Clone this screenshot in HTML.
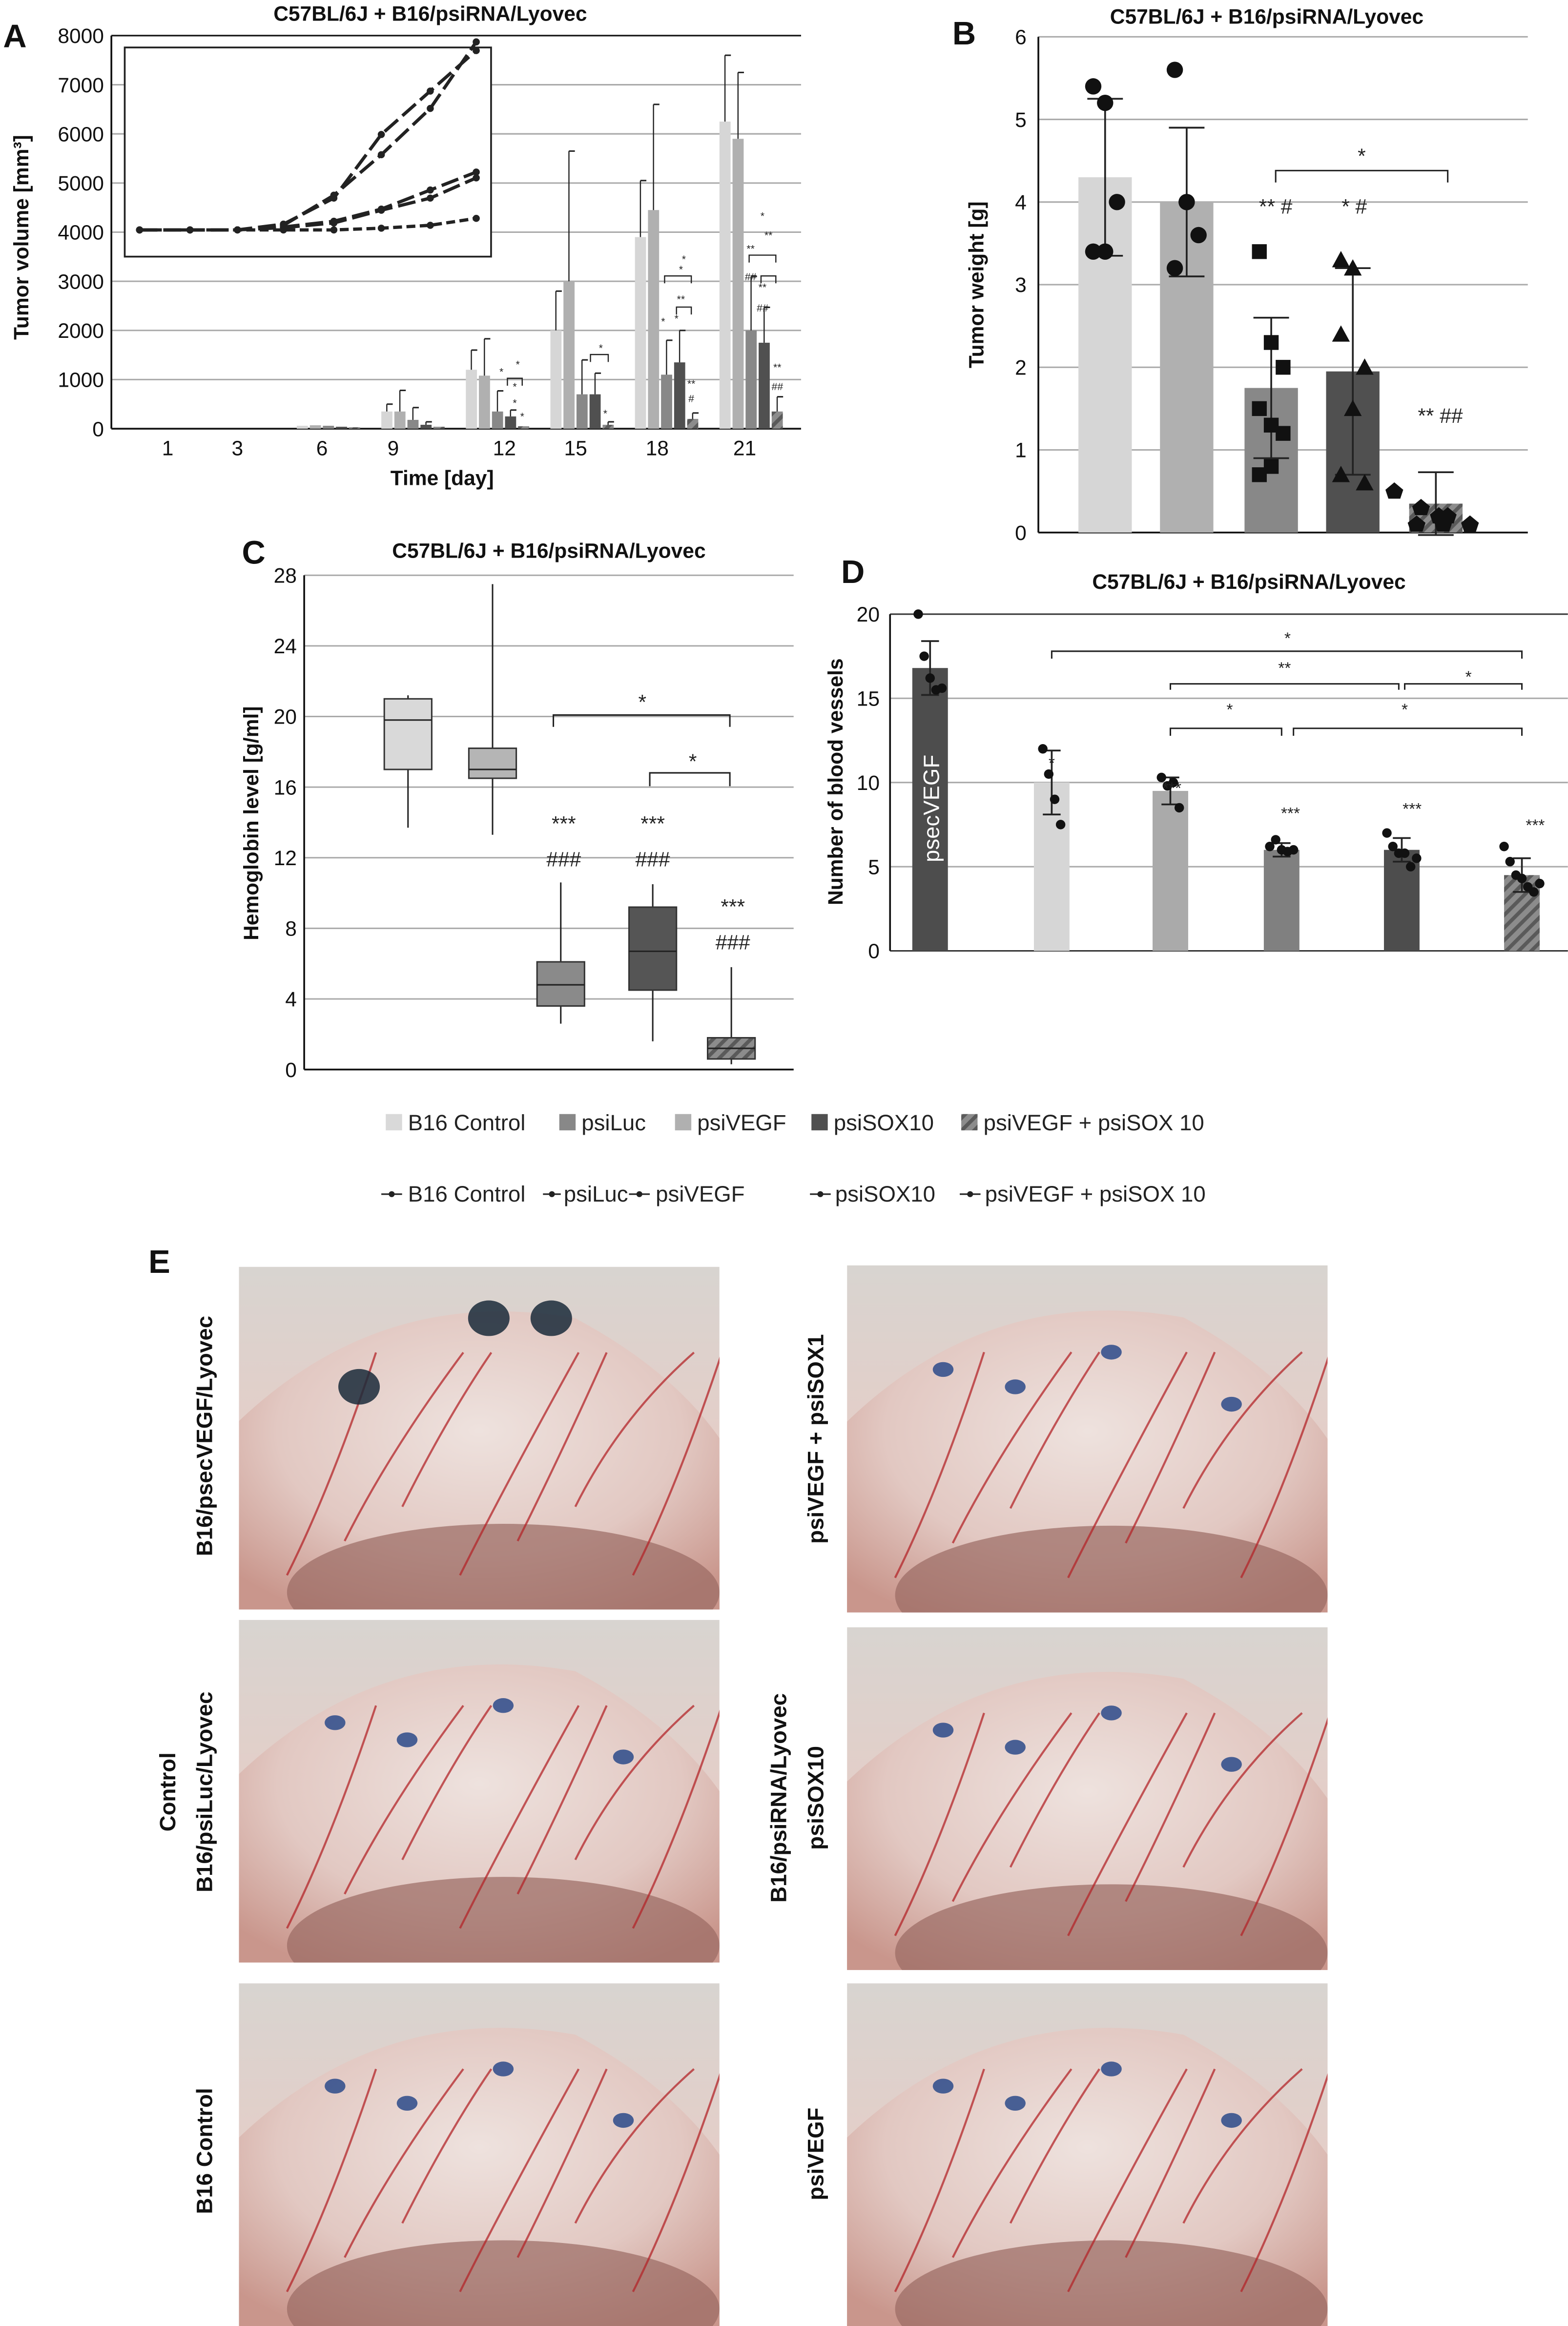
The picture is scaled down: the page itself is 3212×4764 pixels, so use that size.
<!DOCTYPE html>
<html><head><meta charset="utf-8"><style>
html,body{margin:0;padding:0;background:#fff}
svg{display:block;font-family:"Liberation Sans",sans-serif}
</style></head><body>
<svg id="fig" xmlns="http://www.w3.org/2000/svg" width="3212" height="4764" viewBox="0 0 1057 1568">
<defs>
<pattern id="hatch" patternUnits="userSpaceOnUse" width="6" height="6" patternTransform="rotate(45)">
<rect width="6" height="6" fill="#8c8c8c"/><rect width="2.5" height="6" fill="#5a5a5a"/></pattern>
<radialGradient id="tissue" cx="50%" cy="40%" r="70%">
<stop offset="0" stop-color="#eee2de"/><stop offset="0.6" stop-color="#e2c8c2"/><stop offset="1" stop-color="#c9968c"/></radialGradient>
<linearGradient id="bg1" x1="0" y1="0" x2="0" y2="1"><stop offset="0" stop-color="#d8d4d0"/><stop offset="0.5" stop-color="#e4cec8"/><stop offset="1" stop-color="#b0837a"/></linearGradient>
</defs>
<g id="root"></g>
<g font-weight="bold" font-size="22" fill="#111">
<text x="2" y="32">A</text><text x="642" y="30">B</text><text x="163" y="380">C</text><text x="567" y="393">D</text><text x="100" y="858">E</text>
</g>
<g font-weight="bold" font-size="14" fill="#111" text-anchor="middle">
<text x="290" y="14">C57BL/6J + B16/psiRNA/Lyovec</text>
<text x="854" y="16">C57BL/6J + B16/psiRNA/Lyovec</text>
<text x="370" y="376">C57BL/6J + B16/psiRNA/Lyovec</text>
<text x="842" y="397">C57BL/6J + B16/psiRNA/Lyovec</text>
</g>
<g font-size="14" fill="#111" text-anchor="middle">
<text x="298" y="327" font-weight="bold">Time [day]</text>
<text transform="translate(19,160) rotate(-90)" font-weight="bold">Tumor volume [mm³]</text>
<text transform="translate(663,192) rotate(-90)" font-weight="bold">Tumor weight [g]</text>
<text transform="translate(174,555) rotate(-90)" font-weight="bold">Hemoglobin level [g/ml]</text>
<text transform="translate(568,527) rotate(-90)" font-weight="bold">Number of blood vessels</text>
</g>
<g font-size="15" fill="#222">
<rect x="260" y="751" width="11" height="11" fill="#d9d9d9"/><text x="275" y="762">B16 Control</text>
<rect x="377" y="751" width="11" height="11" fill="#888"/><text x="392" y="762">psiLuc</text>
<rect x="455" y="751" width="11" height="11" fill="#b0b0b0"/><text x="470" y="762">psiVEGF</text>
<rect x="547" y="751" width="11" height="11" fill="#505050"/><text x="562" y="762">psiSOX10</text>
<rect x="648" y="751" width="11" height="11" fill="url(#hatch)"/><text x="663" y="762">psiVEGF + psiSOX 10</text>
</g>
<g font-size="15" fill="#222" stroke="#222">
<g stroke-width="1"><line x1="257" y1="805" x2="271" y2="805"/><line x1="366" y1="805" x2="378" y2="805"/><line x1="424" y1="805" x2="438" y2="805"/><line x1="546" y1="805" x2="560" y2="805"/><line x1="647" y1="805" x2="661" y2="805"/></g>
<g stroke="none"><circle cx="264" cy="805" r="2"/><circle cx="372" cy="805" r="2"/><circle cx="431" cy="805" r="2"/><circle cx="553" cy="805" r="2"/><circle cx="654" cy="805" r="2"/>
<text x="275" y="810">B16 Control</text><text x="380" y="810">psiLuc</text><text x="442" y="810">psiVEGF</text><text x="563" y="810">psiSOX10</text><text x="664" y="810">psiVEGF + psiSOX 10</text></g>
</g>
<g font-size="15" font-weight="bold" fill="#111" text-anchor="middle">
<text transform="translate(143,968) rotate(-90)">B16/psecVEGF/Lyovec</text>
<text transform="translate(118,1208) rotate(-90)">Control</text>
<text transform="translate(143,1208) rotate(-90)">B16/psiLuc/Lyovec</text>
<text transform="translate(143,1450) rotate(-90)">B16 Control</text>
<text transform="translate(555,970) rotate(-90)">psiVEGF + psiSOX1</text>
<text transform="translate(530,1212) rotate(-90)">B16/psiRNA/Lyovec</text>
<text transform="translate(555,1212) rotate(-90)">psiSOX10</text>
<text transform="translate(555,1452) rotate(-90)">psiVEGF</text>
</g>
<script>
// ---- Panel A data ----
const daysA=["1","3","6","9","12","15","18","21"];
const volB16=[0,0,60,350,1200,2000,3900,6250];
const volLuc=[0,0,70,350,1080,3000,4450,5900];
const volVEGF=[0,0,60,180,350,700,1100,2000];
const volSOX=[0,0,40,80,250,700,1350,1750];
const volCombo=[0,0,30,40,50,80,200,350];
const errB16=[0,0,10,150,400,800,1150,1350];
const errLuc=[0,0,10,430,750,2650,2150,1350];
const errVEGF=[0,0,10,250,420,700,700,1100];
const errSOX=[0,0,5,60,130,430,650,720];
const errCombo=[0,0,5,20,20,60,120,300];
const ticksA=[0,1000,2000,3000,4000,5000,6000,7000,8000];
const insetB16=[0,0,1,80,600,1300,2100,3250];
const insetLuc=[0,0,1,100,550,1650,2400,3100];
const insetVEGF=[0,0,1,50,150,360,690,1000];
const insetSOX=[0,0,1,40,120,340,550,900];
const insetCombo=[0,0,0,0,0,30,80,200];
// ---- Panel B ----
const groupsB=["B16 Control","psiLuc","psiVEGF","psiSOX10","psiVEGF+psiSOX10"];
const weightMean=[4.3,4.0,1.75,1.95,0.35];
const weightSD=[0.95,0.9,0.85,1.25,0.38];
const weightPts=[[5.4,5.2,4.0,3.4,3.4],[5.6,4.0,3.6,3.2,4.0],[3.4,2.3,2.0,1.5,1.3,1.2,0.7,0.8],[3.3,3.2,2.0,2.4,1.5,0.6,0.7],[0.5,0.3,0.2,0.1,0.1,0.1,0.2]];
const ticksB=[0,1,2,3,4,5,6];
// ---- Panel C ----
const boxMin=[13.7,13.3,2.6,1.6,0.3];
const boxQ1=[17,16.5,3.6,4.5,0.6];
const boxMed=[19.8,17,4.8,6.7,1.2];
const boxQ3=[21,18.2,6.1,9.2,1.8];
const boxMax=[21.2,27.5,10.6,10.5,5.8];
const ticksC=[0,4,8,12,16,20,24,28];
// ---- Panel D ----
const vesselMean=[16.8,10,9.5,6,6,4.5];
const vesselSD=[1.6,1.9,0.8,0.4,0.7,1.0];
const vesselPts=[[20,17.5,16.2,15.5,15.6],[12,10.5,9,7.5],[10.3,9.8,10,8.5],[6.2,6.6,6,5.9,6],[7,6.2,5.8,5.8,5,5.5],[6.2,5.3,4.5,4.3,3.8,3.5,4]];
const ticksD=[0,5,10,15,20];

const NS="http://www.w3.org/2000/svg";
const root=document.getElementById('root');
function mk(tag,attrs,parent){const e=document.createElementNS(NS,tag);for(const k in attrs)e.setAttribute(k,attrs[k]);(parent||root).appendChild(e);return e;}
function txt(x,y,s,attrs,parent){const t=mk('text',Object.assign({x:x,y:y},attrs||{}),parent);t.textContent=s;return t;}
const fills=["#d6d6d6","#b0b0b0","#888888","#505050","url(#hatch)"];

// ===== Panel A =====
const gA=mk('g',{});


const A={x0:75,x1:540,y0:289,yt:24,max:8000};
const yA=v=>A.y0-(v/A.max)*(A.y0-A.yt);
const dayX=[113,160,217,265,340,388,443,502];
const groupStart=i=>200+57*(i-2);
ticksA.forEach(t=>{
  if(t>0){const l=mk('line',{x1:A.x0,x2:A.x1,y1:yA(t),y2:yA(t),stroke:'#aaa','stroke-width':1},gA);
  }
  const tl=txt(A.x0-5,yA(t)+5,String(t),{'font-size':14,'text-anchor':'end',fill:'#111'},gA);
  
});
mk('line',{x1:A.x0,x2:A.x0,y1:A.yt,y2:A.y0,stroke:'#111','stroke-width':1.2},gA);
mk('line',{x1:A.x0,x2:A.x1,y1:A.y0,y2:A.y0,stroke:'#111','stroke-width':1.2},gA);
mk('line',{x1:A.x0,x2:A.x1,y1:A.yt,y2:A.yt,stroke:'#111','stroke-width':1},gA);
daysA.forEach((d,i)=>{const t=txt(dayX[i],307,d,{'font-size':14,'text-anchor':'middle',fill:'#111'},gA);
 });
const seriesA=[volB16,volLuc,volVEGF,volSOX,volCombo], errA=[errB16,errLuc,errVEGF,errSOX,errCombo];
seriesA.forEach((s,j)=>s.forEach((v,i)=>{
  if(v<=0)return;
  const x=groupStart(i)+j*8.8;
  const r=mk('rect',{x:x,y:yA(v),width:7.5,height:A.y0-yA(v),fill:fills[j]},gA);
  
  const e=errA[j][i];
  if(e>20){const cx=x+3.7;mk('line',{x1:cx,x2:cx,y1:yA(v),y2:yA(v+e),stroke:'#222','stroke-width':0.8},gA);
   mk('line',{x1:cx,x2:cx+4,y1:yA(v+e),y2:yA(v+e),stroke:'#222','stroke-width':1},gA);}
}));
const inset=mk('g',{},gA);


mk('rect',{x:84,y:32,width:247,height:141,fill:'#fff',stroke:'#222','stroke-width':1.2},inset);
const ix=i=>[94,128,160,191,225,257,290,321][i];
const iy=v=>155-v*0.039;
[insetB16,insetLuc,insetVEGF,insetSOX,insetCombo].forEach((s,j)=>{
  const pts=s.map((v,i)=>ix(i)+','+iy(v)).join(' ');
  const pl=mk('polyline',{points:pts,fill:'none',stroke:'#222','stroke-width':2.2,'stroke-dasharray':j==4?'6,3':'12,4'},inset);
  
  s.forEach((v,i)=>mk('circle',{cx:ix(i),cy:iy(v),r:2.4,fill:'#222'},inset));
});
[[338,253,'*'],[347,263,'*'],[347,274,'*'],[352,283,'*'],[349,248,'*'],[408,281,'*'],[405,237,'*'],[447,219,'*'],[456,217,'*'],[466,261,'**'],[466,271,'#'],[459,204,'**'],[459,184,'*'],[461,177,'*'],[506,170,'**'],[506,189,'##'],[514,196,'**'],[514,210,'##'],[524,250,'**'],[524,263,'##'],[514,148,'*'],[518,161,'**']].forEach(a=>{
  const t=txt(a[0],a[1],a[2],{'font-size':7,'text-anchor':'middle',fill:'#222'},gA);
  
});
['M342 260 V255 H352 V260','M398 244 V239 H410 V244','M448 191 V186 H466 V191','M456 212 V207 H466 V212','M505 177 V172 H523 V177','M513 191 V186 H523 V191'].forEach(d=>mk('path',{d:d,fill:'none',stroke:'#222','stroke-width':0.8},gA));

// ===== Panel B =====
const gB=mk('g',{});


const yB=v=>359-v*55.7;
const bX=[745,800,857,912,968];
ticksB.forEach(t=>{
  if(t>0){const l=mk('line',{x1:700,x2:1030,y1:yB(t),y2:yB(t),stroke:'#aaa','stroke-width':1},gB);
  }
  const tl=txt(692,yB(t)+5,String(t),{'font-size':14,'text-anchor':'end',fill:'#111'},gB);
  
});
mk('line',{x1:700,x2:700,y1:yB(6),y2:yB(0),stroke:'#111','stroke-width':1.2},gB);
mk('line',{x1:700,x2:1030,y1:yB(0),y2:yB(0),stroke:'#111','stroke-width':1.2},gB);
weightMean.forEach((v,i)=>{
  const r=mk('rect',{x:bX[i]-18,y:yB(v),width:36,height:yB(0)-yB(v),fill:fills[i]},gB);
  
  const sd=weightSD[i];
  mk('line',{x1:bX[i],x2:bX[i],y1:yB(v-sd),y2:yB(v+sd),stroke:'#222','stroke-width':1.2},gB);
  mk('line',{x1:bX[i]-12,x2:bX[i]+12,y1:yB(v-sd),y2:yB(v-sd),stroke:'#222','stroke-width':1.2},gB);
  mk('line',{x1:bX[i]-12,x2:bX[i]+12,y1:yB(v+sd),y2:yB(v+sd),stroke:'#222','stroke-width':1.2},gB);
  weightPts[i].forEach((p,k)=>{
    const n=weightPts[i].length;const px=bX[i]+((k%3)-1)*(i==4?13:8)+(i==4?(k-3)*5:0);const py=yB(p);
    let m;
    if(i==2)m=mk('rect',{x:px-5,y:py-5,width:10,height:10,fill:'#111'},gB);
    else if(i==3)m=mk('polygon',{points:`${px},${py-6} ${px+6},${py+5} ${px-6},${py+5}`,fill:'#111'},gB);
    else if(i==4)m=mk('polygon',{points:`${px},${py-6} ${px+6},${py-1} ${px+4},${py+5} ${px-4},${py+5} ${px-6},${py-1}`,fill:'#111'},gB);
    else m=mk('circle',{cx:px,cy:py,r:5.5,fill:'#111'},gB);
    
  });
});
mk('path',{d:'M860 123 V115 H976 V123',fill:'none',stroke:'#222','stroke-width':1},gB);
[[918,110,'*',14],[860,144,'** #',14],[913,144,'* #',14],[971,285,'** ##',14]].forEach(a=>{
  const t=txt(a[0],a[1],a[2],{'font-size':a[3],'text-anchor':'middle',fill:'#222'},gB);
  });

// ===== Panel C =====
const gC=mk('g',{});


const yC=v=>721-v*11.9;
const cX=[275,332,378,440,493];
ticksC.forEach(t=>{
  if(t>0){const l=mk('line',{x1:205,x2:535,y1:yC(t),y2:yC(t),stroke:'#aaa','stroke-width':1},gC);
  }
  const tl=txt(200,yC(t)+5,String(t),{'font-size':14,'text-anchor':'end',fill:'#111'},gC);
  
});
mk('line',{x1:205,x2:205,y1:yC(28),y2:yC(0),stroke:'#111','stroke-width':1.2},gC);
mk('line',{x1:205,x2:535,y1:yC(0),y2:yC(0),stroke:'#111','stroke-width':1.2},gC);
const boxFill=["#d9d9d9","#b5b5b5","#8a8a8a","#555","url(#hatch)"];
cX.forEach((x,i)=>{
  mk('line',{x1:x,x2:x,y1:yC(boxMin[i]),y2:yC(boxMax[i]),stroke:'#222','stroke-width':1},gC);
  const b=mk('rect',{x:x-16,y:yC(boxQ3[i]),width:32,height:yC(boxQ1[i])-yC(boxQ3[i]),fill:boxFill[i],stroke:'#333','stroke-width':1},gC);
  
  mk('line',{x1:x-16,x2:x+16,y1:yC(boxMed[i]),y2:yC(boxMed[i]),stroke:'#222','stroke-width':1},gC);
});
mk('path',{d:'M373 490 V482 H492 V490',fill:'none',stroke:'#222','stroke-width':1},gC);
mk('path',{d:'M438 530 V521 H492 V530',fill:'none',stroke:'#222','stroke-width':1},gC);
[[433,478,'*'],[467,518,'*'],[380,560,'***'],[380,584,'###'],[440,560,'***'],[440,584,'###'],[494,616,'***'],[494,640,'###']].forEach(a=>{
  const t=txt(a[0],a[1],a[2],{'font-size':14,'text-anchor':'middle',fill:'#222'},gC);
  });

// ===== Panel D =====
const gD=mk('g',{});


const yD=v=>641-v*11.35;
const dX=[627,709,789,864,945,1026];
ticksD.forEach(t=>{
  const l=mk('line',{x1:600,x2:1057,y1:yD(t),y2:yD(t),stroke:t==0||t==20?'#333':'#aaa','stroke-width':1},gD);
  
  const tl=txt(593,yD(t)+5,String(t),{'font-size':14,'text-anchor':'end',fill:'#111'},gD);
  
});
mk('line',{x1:600,x2:600,y1:yD(20),y2:yD(0),stroke:'#111','stroke-width':1.2},gD);
const dFill=["#4d4d4d","#d6d6d6","#aaaaaa","#808080","#4d4d4d","url(#hatch)"];
vesselMean.forEach((v,i)=>{
  const r=mk('rect',{x:dX[i]-12,y:yD(v),width:24,height:yD(0)-yD(v),fill:dFill[i]},gD);
  
  const sd=vesselSD[i];
  mk('line',{x1:dX[i],x2:dX[i],y1:yD(v-sd),y2:yD(v+sd),stroke:'#222','stroke-width':1.2},gD);
  [v-sd,v+sd].forEach(e=>mk('line',{x1:dX[i]-6,x2:dX[i]+6,y1:yD(e),y2:yD(e),stroke:'#222','stroke-width':1.2},gD));
  vesselPts[i].forEach((p,k)=>{
    const n=vesselPts[i].length;const px=dX[i]+(k-(n-1)/2)*4;
    const c=mk('circle',{cx:px,cy:yD(p),r:3.2,fill:'#111'},gD);
    
  });
});
const lab=txt(0,0,'psecVEGF',{'font-size':15,fill:'#fff','text-anchor':'middle',transform:'translate(633,545) rotate(-90)'},gD);

['M709 444 V439 H1026 V444','M789 465 V461 H943 V465','M947 465 V461 H1026 V465','M789 496 V491 H864 V496','M872 496 V491 H1026 V496'].forEach(d=>mk('path',{d:d,fill:'none',stroke:'#222','stroke-width':1},gD));
[[868,434,'*'],[866,454,'**'],[990,460,'*'],[829,482,'*'],[947,482,'*'],[709,518,'*'],[790,535,'***'],[870,552,'***'],[952,549,'***'],[1035,560,'***']].forEach(a=>{
  const t=txt(a[0],a[1],a[2],{'font-size':11,'text-anchor':'middle',fill:'#222'},gD);
  });

// ===== Panel E photos =====
const photos=[[161,854,324,231,'photo-b16-psecvegf'],[161,1092,324,231,'photo-control-psiluc'],[161,1337,324,231,'photo-b16-control'],
[571,853,324,234,'photo-psivegf-psisox'],[571,1097,324,231,'photo-psisox10'],[571,1337,324,231,'photo-psivegf']];
photos.forEach((p,i)=>{
  const g=mk('g',{});
  
  
  const cp=mk('clipPath',{id:'cp'+i},g);
  mk('rect',{x:p[0],y:p[1],width:p[2],height:p[3]},cp);
  const gg=mk('g',{'clip-path':'url(#cp'+i+')'},g);
  mk('rect',{x:p[0],y:p[1],width:p[2],height:p[3],fill:'url(#bg1)'},gg);
  mk('path',{d:`M${p[0]} ${p[1]+p[3]*0.45} Q${p[0]+p[2]*0.3} ${p[1]+p[3]*0.05} ${p[0]+p[2]*0.7} ${p[1]+p[3]*0.15} Q${p[0]+p[2]*0.9} ${p[1]+p[3]*0.3} ${p[0]+p[2]} ${p[1]+p[3]*0.5} V${p[1]+p[3]} H${p[0]} Z`,fill:'url(#tissue)'},gg);
  mk('ellipse',{cx:p[0]+p[2]*0.55,cy:p[1]+p[3]*0.95,rx:p[2]*0.45,ry:p[3]*0.2,fill:'#9a6a62',opacity:0.7},gg);
  for(let k=0;k<7;k++){
    const sx=p[0]+p[2]*(0.1+k*0.12), sy=p[1]+p[3]*(0.9-(k%3)*0.1);
    mk('path',{d:`M${sx} ${sy} Q${sx+30} ${sy-60} ${sx+60+(k%2)*20} ${p[1]+p[3]*0.25}`,fill:'none',stroke:'#b3262a','stroke-width':1.4,opacity:0.75},gg);
  }
  const dots=i==0?[[0.25,0.35],[0.52,0.15],[0.65,0.15]]:[[0.2,0.3],[0.35,0.35],[0.55,0.25],[0.8,0.4]];
  dots.forEach(d=>mk('ellipse',{cx:p[0]+p[2]*d[0],cy:p[1]+p[3]*d[1],rx:i==0?14:7,ry:i==0?12:5,fill:i==0?'#1a2a3a':'#2b4a8a',opacity:0.85},gg));
});
</script>
</svg>
</body></html>
